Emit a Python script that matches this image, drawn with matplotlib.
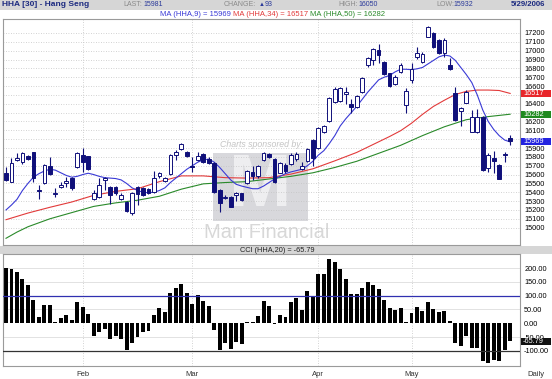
import matplotlib
matplotlib.use('Agg')
import matplotlib.pyplot as plt
from matplotlib.patches import Rectangle
from matplotlib.transforms import blended_transform_factory
import numpy as np

plt.rcParams['font.family'] = ['Liberation Sans', 'DejaVu Sans']

W, H = 552, 379

# daily OHLC of HHA (late Jan .. 29 May 2006)
opens = [15614, 15520, 15770, 15745, 15805, 15852, 15420, 15500, 15697, 15380,
         15456, 15510, 15557, 15682, 15822, 15810, 15320, 15343, 15539, 15456,
         15456, 15320, 15294, 15170, 15456, 15445, 15437, 15407, 15588, 15531,
         15607, 15821, 15889, 15859, 15697, 15765, 15833, 15772, 15735, 15426,
         15340, 15343, 15366, 15388, 15501, 15633, 15584, 15765, 15833, 15772,
         15622, 15708, 15720, 15772, 15659, 15757, 15991, 15897, 16085, 16209,
         16424, 16435, 16511, 16398, 16360, 16537, 16838, 16895, 17008, 16876,
         16744, 16624, 16763, 16386, 16669, 16933, 16876, 17159, 17204, 17121,
         16970, 16838, 16526, 16322, 16413, 16085, 16085, 16255, 15671, 15784,
         15709, 15826, 16010]
highs = [15682, 15790, 15840, 15850, 15820, 15860, 15480, 15715, 15803, 15445,
         15520, 15577, 15577, 15855, 15897, 15815, 15426, 15558, 15577, 15471,
         15471, 15388, 15305, 15407, 15471, 15464, 15445, 15644, 15633, 15577,
         15833, 15878, 15953, 15870, 15803, 15859, 15840, 15795, 15746, 15437,
         15370, 15358, 15407, 15396, 15652, 15697, 15708, 15859, 15848, 15784,
         15746, 15727, 15848, 15859, 15746, 15897, 15998, 16142, 16160, 16481,
         16586, 16594, 16586, 16451, 16500, 16699, 16933, 17027, 17076, 16887,
         16752, 16725, 16865, 16575, 16865, 17038, 16989, 17280, 17215, 17128,
         17140, 16914, 16594, 16360, 16556, 16330, 16337, 16266, 15840, 15870,
         15720, 15860, 16050]
lows = [15531, 15515, 15755, 15725, 15765, 15520, 15320, 15495, 15595, 15345,
        15445, 15455, 15426, 15670, 15633, 15652, 15310, 15332, 15426, 15268,
        15370, 15313, 15181, 15143, 15256, 15358, 15380, 15396, 15558, 15520,
        15595, 15765, 15878, 15803, 15633, 15757, 15735, 15720, 15396, 15181,
        15320, 15230, 15306, 15306, 15494, 15539, 15558, 15757, 15784, 15509,
        15614, 15622, 15708, 15757, 15652, 15746, 15697, 15885, 16074, 16198,
        16413, 16424, 16398, 16300, 16349, 16526, 16820, 16838, 16857, 16725,
        16586, 16613, 16752, 16300, 16639, 16903, 16865, 17151, 17027, 16963,
        16925, 16782, 16209, 16149, 16405, 16085, 16066, 15644, 15633, 15614,
        15546, 15746, 15932]
closes = [15539, 15735, 15790, 15840, 15780, 15558, 15415, 15710, 15607, 15395,
          15483, 15530, 15445, 15848, 15746, 15660, 15388, 15483, 15558, 15370,
          15396, 15370, 15192, 15388, 15381, 15370, 15388, 15565, 15614, 15558,
          15821, 15859, 15942, 15814, 15690, 15810, 15746, 15735, 15407, 15275,
          15350, 15238, 15396, 15313, 15644, 15584, 15697, 15840, 15795, 15520,
          15735, 15644, 15821, 15833, 15697, 15885, 15784, 16123, 16149, 16469,
          16564, 16575, 16537, 16368, 16488, 16688, 16914, 17016, 16951, 16737,
          16601, 16699, 16838, 16549, 16790, 16970, 16963, 17272, 17038, 16970,
          17121, 16790, 16217, 16349, 16537, 16247, 16255, 15652, 15821, 15757,
          15550, 15820, 15981]

# moving averages as drawn
ma9 = [15200, 15256, 15320, 15420, 15500, 15570, 15610, 15640, 15660, 15650,
       15620, 15590, 15570, 15580, 15600, 15615, 15600, 15580, 15565, 15560,
       15555, 15540, 15500, 15450, 15420, 15400, 15395, 15400, 15420, 15450,
       15510, 15560, 15610, 15660, 15700, 15740, 15765, 15775, 15740, 15680,
       15610, 15540, 15490, 15470, 15455, 15440, 15440, 15470, 15510, 15550,
       15580, 15610, 15630, 15645, 15660, 15700, 15750, 15820, 15870, 15950,
       16040, 16150, 16230, 16300, 16370, 16450, 16530, 16600, 16670, 16700,
       16720, 16760, 16790, 16790, 16785, 16795, 16810, 16850, 16890, 16930,
       16950, 16940, 16890, 16810, 16730, 16640, 16500, 16330, 16200, 16110,
       16040, 15990, 15969]
ma34_x = [0, 4, 8, 12, 16, 20, 24, 28, 32, 36, 40, 44, 48, 52, 56, 60, 64, 68,
          70, 72, 74, 76, 78, 80, 82, 84, 86, 88, 90, 92]
ma34 = [15090, 15165, 15230, 15290, 15365, 15410, 15440, 15520, 15585, 15585,
        15565, 15560, 15565, 15605, 15665, 15755, 15850, 15970, 16030, 16095,
        16180, 16280, 16370, 16440, 16505, 16540, 16555, 16555, 16550, 16517]
ma50_x = [0, 2, 4, 8, 12, 16, 20, 24, 28, 32, 36, 40, 44, 48, 52, 56, 60, 64,
          68, 72, 76, 80, 84, 88, 92]
ma50 = [14880, 14950, 15010, 15100, 15170, 15240, 15280, 15310, 15355, 15435,
        15495, 15510, 15520, 15550, 15580, 15620, 15680, 15750, 15840, 15930,
        16040, 16140, 16220, 16255, 16282]

# CCI(20)
cci = [201, 195, 187, 162, 137, 85, 24, 67, 67, 4,
       18, 29, 13, 78, 60, 35, -45, -30, -22, -57,
       -45, -57, -98, -71, -49, -30, -27, 29, 56, 41,
       111, 129, 141, 109, 71, 101, 80, 63, -24, -98,
       -70, -95, -67, -77, 6, 4, 27, 82, 63, -3,
       29, 23, 78, 91, 48, 118, 98, 179, 177, 232,
       223, 195, 159, 107, 107, 126, 149, 139, 123, 83,
       57, 48, 56, 5, 38, 60, 45, 76, 52, 41,
       44, 9, -73, -82, -48, -89, -89, -138, -144, -132,
       -137, -98, -66]

month_pos = [14, 34, 57, 74]
month_names = ['Feb', 'Mar', 'Apr', 'May']
price_ticks = list(range(15000, 17201, 100))
cci_ticks = [-100, -50, 0, 50, 100, 150, 200]
# last values shown in the coloured boxes on the right
price_boxes = [(16517, '#e8262a'), (16282, '#1f8a1f'), (15969, '#2323e0')]


def fx(px):
    return px / W


def fy(py):
    return 1 - py / H


navy = '#10107a'
c_blue = '#3a3ad6'
c_red = '#e23a3a'
c_green = '#2a8a2a'
grid_c = '#c4c4c4'

fig = plt.figure(figsize=(W / 100, H / 100), dpi=100)
fig.patch.set_facecolor('white')

# header bars
fig.add_artist(Rectangle((0, fy(9.5)), 1, 9.5 / H, transform=fig.transFigure,
                         fc='#d6d6d6', ec='none', zorder=0))
fig.add_artist(Rectangle((0, fy(254)), 1, 8.5 / H, transform=fig.transFigure,
                         fc='#d6d6d6', ec='none', zorder=0))

lab_c = '#8a8a8a'
num_c = '#2b3a9a'
hy = fy(5)
fs_h = 5.0
fig.text(fx(2), hy, 'HHA [30] - Hang Seng', fontsize=6, fontweight='bold', color='#1c2a80', va='center')
fig.text(fx(123), hy, 'LAST:', fontsize=fs_h, color=lab_c, va='center')
fig.text(fx(143), hy, '15981', fontsize=fs_h, color=num_c, va='center')
fig.text(fx(224), hy, 'CHANGE:', fontsize=fs_h, color=lab_c, va='center')
fig.text(fx(258.5), hy, '\u25b2', fontsize=4.3, color=num_c, va='center')
fig.text(fx(265), hy, '93', fontsize=fs_h, color=num_c, va='center')
fig.text(fx(338), hy, 'HIGH:', fontsize=fs_h, color=lab_c, va='center')
fig.text(fx(358), hy, '16050', fontsize=fs_h, color=num_c, va='center')
fig.text(fx(436), hy, 'LOW:', fontsize=fs_h, color=lab_c, va='center')
fig.text(fx(453), hy, '15932', fontsize=fs_h, color=num_c, va='center')
fig.text(fx(545), hy, '5/29/2006', fontsize=5.6, fontweight='bold', color='#1c2a80', va='center', ha='right')

# moving average legend line, laid out one after the other
renderer = fig.canvas.get_renderer()
xpos = 160
for txt, col in [('MA (HHA,9) = 15969', c_blue), ('MA (HHA,34) = 16517', c_red),
                 ('MA (HHA,50) = 16282', c_green)]:
    t = fig.text(fx(xpos), fy(14.5), txt, fontsize=5.5, color=col, va='center')
    bb = t.get_window_extent(renderer)
    xpos += bb.width + 2

fig.text(fx(277), fy(250), 'CCI (HHA,20) = -65.79', fontsize=5.3, color='#222222', va='center', ha='center')

# ---- price panel ----
ax = fig.add_axes([fx(3), fy(245), 517 / W, 226 / H])
ax.patch.set_alpha(0)
x = np.arange(len(closes))
o = np.array(opens)
c = np.array(closes)
up = c >= o

# watermark
ax.text(fx(262), fy(144.5), 'Charts sponsored by:', transform=fig.transFigure, fontsize=6.3,
        style='italic', color='#c4c4c4', ha='center', va='center', zorder=0.5)
ax.add_patch(Rectangle((fx(213), fy(221)), 95 / W, 68 / H, transform=fig.transFigure,
                       fc='#d8d8dc', ec='none', zorder=0.4))
ax.text(fx(260.5), fy(187), 'M', transform=fig.transFigure, fontsize=54, fontweight='bold',
        color='#eeeef0', ha='center', va='center', zorder=0.45)
ax.text(fx(267), fy(233), 'Man Financial', transform=fig.transFigure, fontsize=14.5,
        color='#d8d8d8', ha='center', va='center', zorder=0.5)

for m in month_pos:
    ax.axvline(m, color=grid_c, lw=0.6, ls=(0, (1, 2)), zorder=1)
for p in price_ticks:
    ax.axhline(p, color=grid_c, lw=0.6, ls=(0, (1, 2)), zorder=1)

ax.plot(ma50_x, ma50, color=c_green, lw=0.8, zorder=2)
ax.plot(ma34_x, ma34, color=c_red, lw=0.8, zorder=2)
ax.plot(x, ma9, color=c_blue, lw=0.8, zorder=2)

ax.vlines(x, lows, highs, color=navy, lw=0.8, zorder=3)
bottoms = np.minimum(o, c)
heights = np.maximum(np.abs(c - o), 8)
ax.bar(x[up], heights[up], bottom=bottoms[up], width=0.68, facecolor='white',
       edgecolor=navy, lw=0.7, zorder=4)
ax.bar(x[~up], heights[~up], bottom=bottoms[~up], width=0.68, facecolor=navy,
       edgecolor=navy, lw=0.7, zorder=4)

ax.set_xlim(-0.55, 93.8)
ax.set_ylim(14804, 17358)
ax.set_xticks([])
ax.yaxis.tick_right()
# tick labels hidden behind the value boxes are left out
shown = [p for p in price_ticks if all(abs(p - v) > 40 for v, _ in price_boxes)]
ax.set_yticks(shown)
ax.set_yticklabels([str(p) for p in shown])
ax.tick_params(axis='y', length=0, pad=3, labelsize=5.3)
for s in ax.spines.values():
    s.set_color('#9a9a9a')
    s.set_linewidth(0.8)


# value boxes at the right
def value_box(axis, val, txt, col, h):
    tr = blended_transform_factory(fig.transFigure, axis.transData)
    fig.add_artist(Rectangle((fx(521), val - h / 2), 30 / W, h, transform=tr,
                             fc=col, ec='none', zorder=5))
    fig.text(fx(523), val, txt, transform=tr, fontsize=5.3, color='white',
             va='center', ha='left', zorder=6)


for v, col in price_boxes:
    value_box(ax, v, str(v), col, 80)

# ---- CCI panel ----
ax2 = fig.add_axes([fx(3), fy(366), 517 / W, 112 / H])
for m in month_pos:
    ax2.axvline(m, color=grid_c, lw=0.6, ls=(0, (1, 2)), zorder=1)
for v in [200, 150, 50, -50]:
    ax2.axhline(v, color='#dddddd', lw=0.6, zorder=1)
ax2.axhline(100, color='#3030b0', lw=0.9, zorder=3)
ax2.axhline(-100, color='#333333', lw=0.9, zorder=3)
ax2.bar(x, cci, width=0.72, color='black', zorder=2)
ax2.set_xlim(-0.55, 93.8)
ax2.set_ylim(-155, 251)
ax2.set_xticks([])
ax2.yaxis.tick_right()
ax2.set_yticks(cci_ticks)
ax2.set_yticklabels(['%.2f' % v for v in cci_ticks])
ax2.tick_params(axis='y', length=0, pad=3, labelsize=5.3)
for s in ax2.spines.values():
    s.set_color('#9a9a9a')
    s.set_linewidth(0.8)
value_box(ax2, -65.79, '-65.79', '#111111', 25)

# month labels below the CCI panel
trm = blended_transform_factory(ax2.transData, fig.transFigure)
for m, name in zip(month_pos, month_names):
    fig.text(m, fy(374), name, transform=trm, fontsize=5.5, color='#333333',
             ha='center', va='center')
fig.text(fx(536), fy(374), 'Daily', fontsize=5.5, color='#333333', ha='center', va='center')

fig.savefig('out.png', dpi=100)
